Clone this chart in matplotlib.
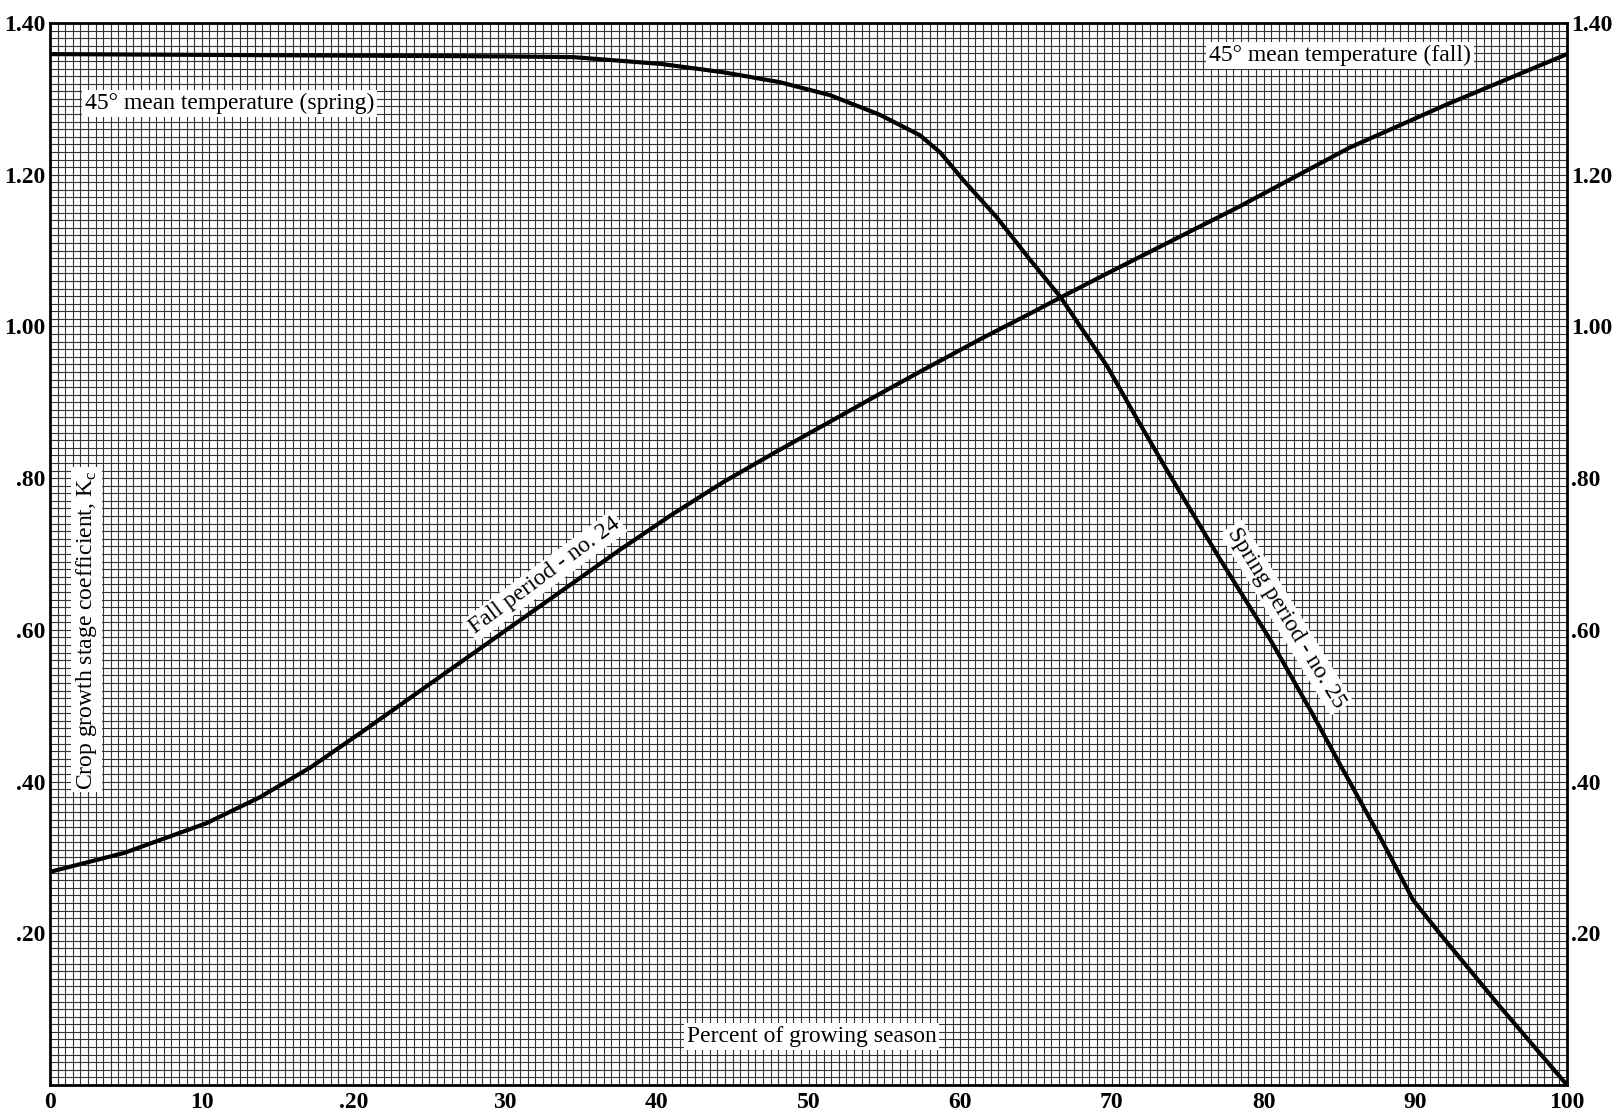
import numpy as np
import matplotlib
matplotlib.use("Agg")
import matplotlib.pyplot as plt

# values (percent of growing season, Kc)
spring_x = [0, 10, 20, 30, 34.5, 40.3, 44.4, 48.1, 51.4, 54.7, 57.35, 58.7, 60.2,
            62.4, 64.6, 66.6, 69.7, 71.6, 73.7, 77.1, 80.5, 83.2, 85.0, 87.7,
            89.85, 91.6, 95.6, 100]
spring_y = [1.359, 1.358, 1.357, 1.356, 1.355, 1.346, 1.335, 1.322, 1.305, 1.279,
            1.252, 1.229, 1.193, 1.144, 1.088, 1.039, 0.947, 0.880, 0.808, 0.694,
            0.585, 0.490, 0.424, 0.326, 0.244, 0.200, 0.103, 0.0]

fall_x = [0, 4.9, 10.3, 13.8, 17.2, 20.6, 24.0, 27.4, 30.8, 34.2, 37.6, 41.0, 44.4,
          47.8, 51.2, 54.6, 57.5, 61.4, 64.8, 66.6, 69.9, 78.4, 85.7, 92.0, 100]
fall_y = [0.281, 0.306, 0.345, 0.379, 0.419, 0.466, 0.514, 0.562, 0.610, 0.658,
          0.706, 0.752, 0.795, 0.834, 0.872, 0.910, 0.942, 0.984, 1.019, 1.038,
          1.072, 1.158, 1.236, 1.292, 1.359]

x_ticks = [0, 10, 20, 30, 40, 50, 60, 70, 80, 90, 100]
x_labels = ['0', '10', '.20', '30', '40', '50', '60', '70', '80', '90', '100']
y_ticks = [0.2, 0.4, 0.6, 0.8, 1.0, 1.2, 1.4]
y_labels = ['.20', '.40', '.60', '.80', '1.00', '1.20', '1.40']

plt.rcParams['font.family'] = ['Liberation Serif', 'DejaVu Serif']
plt.rcParams['mathtext.fontset'] = 'custom'
plt.rcParams['mathtext.rm'] = 'Liberation Serif'

fig = plt.figure(figsize=(16.17, 11.16), dpi=100)
ax = fig.add_axes([50 / 1617, 31 / 1116, 1517 / 1617, 1062 / 1116])
ax.set_xlim(0, 100)
ax.set_ylim(0, 1.40)

# graph paper grid
for gx in np.arange(0.5, 100, 0.5):
    ax.axvline(gx, color='0.2', lw=0.8, zorder=1)
for gy in np.arange(0.01, 1.40, 0.01):
    ax.axhline(gy, color='0.2', lw=0.8, zorder=1)

ax.plot(spring_x, spring_y, color='black', lw=3, zorder=3, solid_joinstyle='round')
ax.plot(fall_x, fall_y, color='black', lw=3, zorder=3, solid_joinstyle='round')

ax.set_xticks(x_ticks)
ax.set_xticklabels(x_labels, fontsize=17, fontweight='bold')
ax.set_yticks(y_ticks)
ax.set_yticklabels(y_labels, fontsize=17, fontweight='bold')
ax.tick_params(length=0, pad=5)
ax.tick_params(axis='y', labelright=True, pad=3)
for s in ax.spines.values():
    s.set_linewidth(2)
    s.set_zorder(4)

box = dict(facecolor='white', edgecolor='none', pad=2)
fs = 17
ax.text(2.3, 1.294, '45° mean temperature (spring)', fontsize=fs, va='center',
        ha='left', bbox=box, zorder=5)
ax.text(76.4, 1.357, '45° mean temperature (fall)', fontsize=fs, va='center',
        ha='left', bbox=box, zorder=5)
ax.text(50.2, 0.064, 'Percent of growing season', fontsize=fs, va='center',
        ha='center', bbox=box, zorder=5)
ax.text(2.4, 0.600, r'Crop growth stage coefficient, K$_{\mathrm{c}}$', fontsize=fs,
        rotation=90, va='center', ha='center', bbox=box, zorder=5)
# curve labels sit under the curves so the lines stay visible
ax.text(32.6, 0.671, 'Fall period - no. 24', fontsize=fs, rotation=36.5,
        va='center', ha='center', bbox=box, zorder=2, rotation_mode='anchor')
ax.text(81.5, 0.616, 'Spring period - no. 25', fontsize=fs, rotation=-58.5,
        va='center', ha='center', bbox=box, zorder=2, rotation_mode='anchor')

fig.savefig('out.png', dpi=100, facecolor='white')
